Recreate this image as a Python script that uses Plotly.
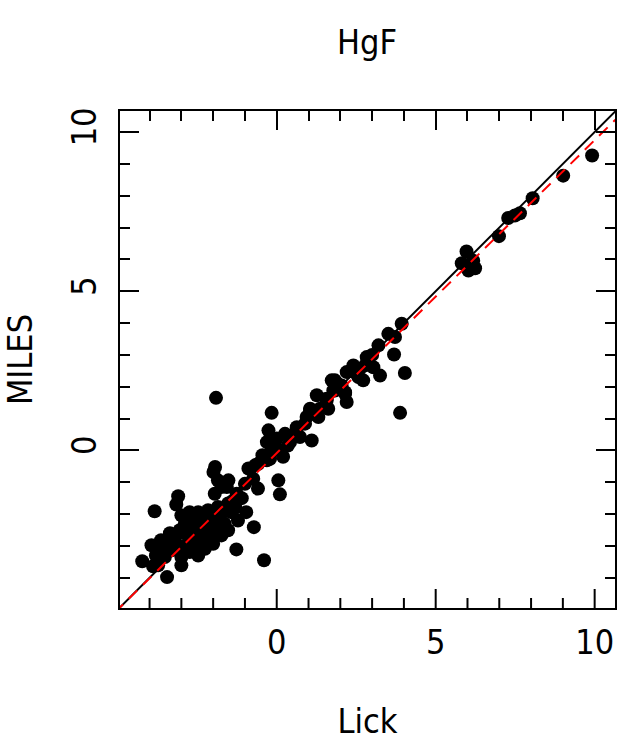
import plotly.graph_objects as go

# Lick vs MILES HgF index measurements
lick = [
    -4.23, -3.84, -3.10, -3.16, -3.94, -3.64, -3.36, -3.89, -3.45, -3.05,
    -3.00, -2.74, -2.47, -2.16, -1.85, -1.53, -1.43, -1.22, -0.96, -0.72,
    -1.27, -0.40, -2.26, -2.47, -3.00, -3.73, -2.84, -2.63, -2.37, -2.11,
    -1.85, -1.64, -1.53, -1.74, -2.00, -2.21, -2.47, -2.69, -2.89, -3.21,
    -3.31, -3.52, -3.00, -2.74, -1.95, -1.74, -1.85, -1.00, -0.59, 0.10,
    -3.30, -3.10, -2.90, -2.60, -2.40, -2.20, -2.00, -1.80, -1.60, -1.40,
    -1.70, -2.30, -3.60, -3.80, -2.90, -2.55, -1.30, -1.90, -1.10, -2.10,
    -1.91, -0.16, -0.26, -0.31, -0.16, 0.00, 0.10, -0.21, -0.31, 0.26,
    0.42, 0.63, 0.73, 1.10, 0.94, 1.05, 1.20, 1.26, 1.57, 1.62,
    1.78, 2.15, 2.20, 1.83, -1.94, -1.99, -1.52, -1.57, -0.89, -0.68,
    -0.58, -0.74, 0.05, -1.26, 0.35, 0.55, -0.45, 0.20,
    3.93, 3.51, 3.72, 3.69, 4.03, 3.88, 3.20, 2.83, 2.78, 3.04,
    3.25, 2.41, 2.20, 2.72, 2.57, 1.73, 2.04, 2.15, 1.57, 1.36,
    1.05, 1.31, 0.63, 0.89, 1.83, 2.45, 3.00, 2.60, 1.90,
    9.92, 9.01, 8.05, 7.28, 7.65, 7.49, 6.99, 5.97, 5.82, 6.18,
    6.03, 6.24,
]
miles = [
    -3.48, -1.91, -1.44, -1.70, -2.98, -2.82, -2.60, -3.64, -3.98, -2.51,
    -2.04, -1.94, -1.94, -1.88, -1.78, -1.67, -1.94, -2.20, -1.94, -2.41,
    -3.11, -3.45, -3.09, -3.30, -3.61, -3.61, -2.98, -2.77, -2.62, -2.51,
    -2.41, -2.30, -2.51, -2.67, -2.93, -2.72, -2.41, -2.20, -2.30, -2.82,
    -3.14, -3.35, -3.35, -3.19, -1.36, -1.15, -0.94, -1.05, -1.20, -1.38,
    -2.90, -3.00, -2.60, -2.50, -2.20, -2.10, -2.20, -2.00, -1.90, -1.60,
    -2.50, -2.80, -3.10, -3.30, -3.20, -2.90, -1.80, -2.60, -1.50, -2.35,
    1.65, 1.18, 0.63, 0.26, 0.10, 0.37, 0.00, -0.26, -0.31, 0.52,
    0.26, 0.68, 0.42, 0.31, 1.05, 1.26, 1.15, 1.73, 1.62, 1.31,
    1.88, 1.78, 1.52, 2.20, -0.52, -0.68, -0.94, -1.15, -0.57, -0.47,
    -0.42, -0.89, -0.94, -1.36, 0.15, 0.45, -0.15, -0.20,
    3.98, 3.66, 3.56, 3.01, 2.43, 1.18, 3.30, 2.93, 2.67, 2.61,
    2.35, 2.67, 2.46, 2.20, 2.30, 2.20, 2.04, 1.83, 1.57, 1.31,
    1.31, 1.05, 0.73, 0.84, 1.88, 2.45, 3.00, 2.55, 2.10,
    9.26, 8.63, 7.92, 7.30, 7.45, 7.38, 6.73, 6.25, 5.88, 5.96,
    5.65, 5.72,
]

# linear fit MILES = a + b * Lick
fit_a = -0.085
fit_b = 0.983

x_range = [-4.93, 10.64]
y_range = [-4.95, 10.66]
line_x = [-6, 12]

font = dict(family="DejaVu Sans Condensed, sans-serif", size=34, color="black")

major_len, minor_len = 19, 10

fig = go.Figure()
fig.add_trace(go.Scatter(x=lick, y=miles, mode="markers",
                         marker=dict(color="black", size=14, line=dict(width=0)),
                         showlegend=False))
fig.add_trace(go.Scatter(x=line_x, y=line_x, mode="lines",
                         line=dict(color="black", width=2), showlegend=False))
fig.add_trace(go.Scatter(x=line_x, y=[fit_a + fit_b * v for v in line_x],
                         mode="lines",
                         line=dict(color="red", width=2, dash="12px,8px"),
                         showlegend=False))
# empty traces so the tick-only axes get drawn
for xa, ya in [("x4", "y2"), ("x5", "y3")]:
    fig.add_trace(go.Scatter(x=[], y=[], xaxis=xa, yaxis=ya, showlegend=False))

# bottom ticks drawn as pixel-sized shapes standing on the frame
for k in range(-4, 11):
    fig.add_shape(type="line", xref="x", yref="paper", x0=k, x1=k,
                  ysizemode="pixel", yanchor=0, y0=0,
                  y1=major_len if k % 5 == 0 else minor_len,
                  line=dict(color="black", width=2), layer="above")

line_style = dict(showgrid=False, zeroline=False, showline=True,
                  linecolor="black", linewidth=2, automargin=False)
tick_style = dict(tickwidth=2, tickcolor="black", tickmode="linear", tick0=0,
                  showticklabels=False, **line_style)

fig.update_layout(
    width=618, height=742,
    margin=dict(l=120, r=3, t=111, b=134),
    plot_bgcolor="white", paper_bgcolor="white",
    title=dict(text="HgF", font=font, x=0.594, xanchor="center",
               y=0.943, yanchor="middle"),
    xaxis=dict(range=x_range, dtick=5, tick0=0, ticks="", mirror=True,
               tickfont=font, ticklabelstandoff=3,
               title=dict(text="Lick", font=font, standoff=48), **line_style),
    yaxis=dict(range=y_range, dtick=5, tick0=0, ticks="", mirror=True,
               tickfont=font, tickangle=-90, ticklabelstandoff=8,
               title=dict(text="MILES", font=font, standoff=24), **line_style),
    # top ticks
    xaxis4=dict(range=x_range, dtick=5, ticklen=major_len, overlaying="x",
                ticks="inside", side="top", **tick_style),
    xaxis5=dict(range=x_range, dtick=1, ticklen=minor_len, overlaying="x",
                ticks="inside", side="top", **tick_style),
    # right ticks, mirrored to the left
    yaxis2=dict(range=y_range, dtick=5, ticklen=major_len, overlaying="y",
                ticks="inside", side="right", mirror="ticks", **tick_style),
    yaxis3=dict(range=y_range, dtick=1, ticklen=minor_len, overlaying="y",
                ticks="inside", side="right", mirror="ticks", **tick_style),
)

fig.write_html("out.html", config={"displayModeBar": False},
               post_script="document.body.style.margin='0px';")
